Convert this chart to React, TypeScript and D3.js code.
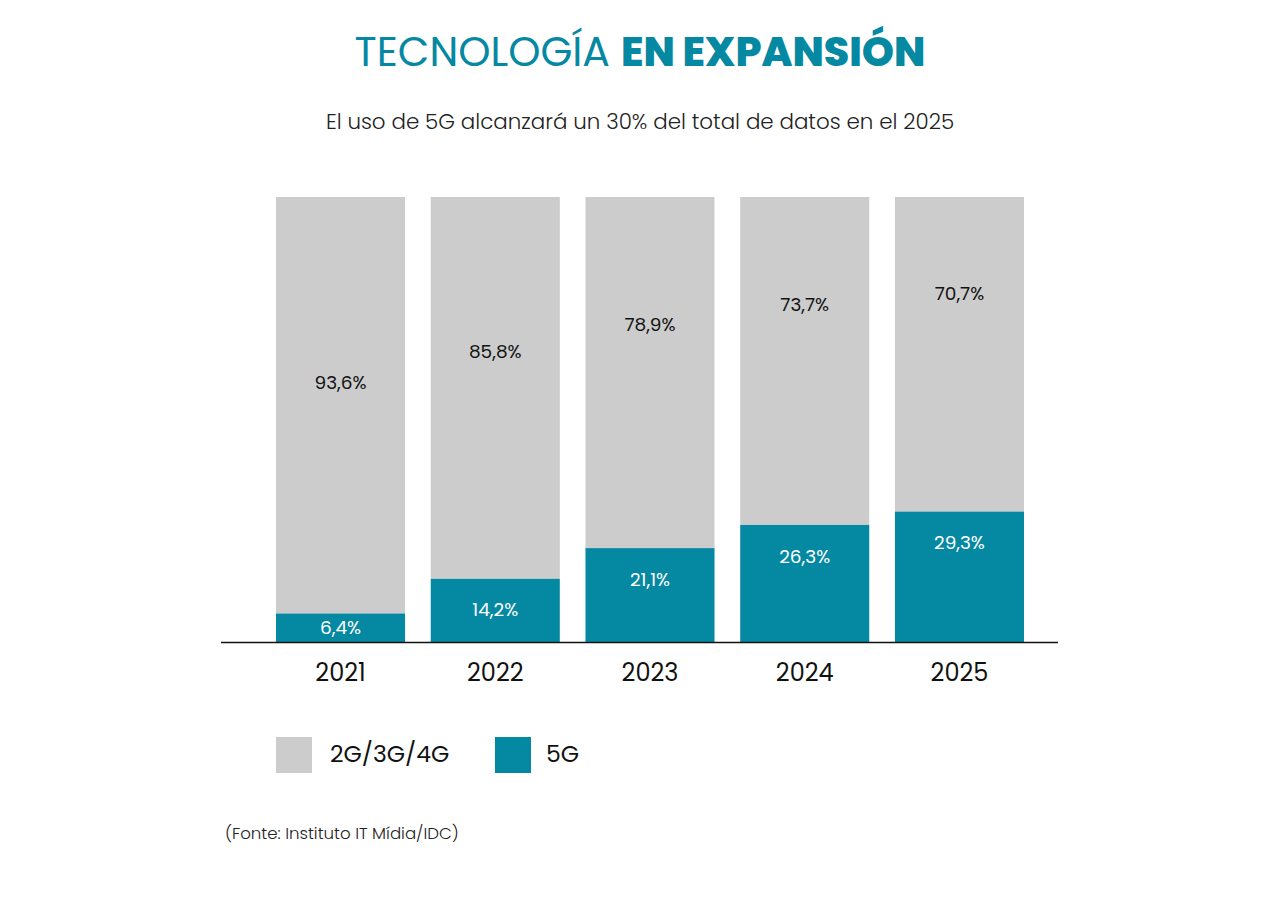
import * as d3 from 'd3';
import React, { useEffect, useRef } from 'react';

const years = ['2021', '2022', '2023', '2024', '2025'];
const legacy = [93.6, 85.8, 78.9, 73.7, 70.7];
const fiveG = [6.4, 14.2, 21.1, 26.3, 29.3];
const seriesNames = ['2G/3G/4G', '5G'];

const width = 1280;
const height = 901;
const teal = '#0588a2';
const gray = '#cccccc';
const font = "Poppins, Inter, 'Noto Sans', sans-serif";
const fmt = (v: number) => v.toFixed(1).replace('.', ',') + '%';

const App: React.FC = () => {
  const ref = useRef<SVGSVGElement>(null);
  useEffect(() => {
    const svg = d3.select(ref.current);
    svg.selectAll('*').remove();

    const x = d3.scaleBand<string>().domain(years).range([276, 1024]).paddingInner(0.166).paddingOuter(0);
    const y = d3.scaleLinear().domain([0, 100]).range([642, 197]);

    // title
    const title = svg
      .append('text')
      .attr('x', width / 2)
      .attr('y', 66)
      .attr('text-anchor', 'middle')
      .attr('fill', teal)
      .style('font-family', font)
      .style('font-size', '41px');
    title.append('tspan').attr('font-weight', 400).text('TECNOLOGÍA ');
    title.append('tspan').attr('font-weight', 800).text('EN EXPANSIÓN');

    svg
      .append('text')
      .attr('x', 640)
      .attr('y', 129)
      .attr('text-anchor', 'middle')
      .attr('fill', '#222')
      .style('font-family', font)
      .style('font-size', '21.4px')
      .style('font-weight', 300)
      .text('El uso de 5G alcanzará un 30% del total de datos en el 2025');

    const rows = years.map((yr, i) => ({ yr, g: legacy[i], f: fiveG[i] }));

    const bars = svg.append('g');
    bars
      .selectAll('rect.legacy')
      .data(rows)
      .join('rect')
      .attr('class', 'legacy')
      .attr('x', (d) => x(d.yr)!)
      .attr('width', x.bandwidth())
      .attr('y', y(100))
      .attr('height', (d) => y(d.f) - y(100))
      .attr('fill', gray);
    bars
      .selectAll('rect.five')
      .data(rows)
      .join('rect')
      .attr('class', 'five')
      .attr('x', (d) => x(d.yr)!)
      .attr('width', x.bandwidth())
      .attr('y', (d) => y(d.f))
      .attr('height', (d) => y(0) - y(d.f))
      .attr('fill', teal);

    const labels = svg.append('g').style('font-family', font).style('font-size', '18.5px').attr('text-anchor', 'middle');
    labels
      .selectAll('text.lg')
      .data(rows)
      .join('text')
      .attr('class', 'lg')
      .attr('x', (d) => x(d.yr)! + x.bandwidth() / 2)
      .attr('y', (d) => y(52.8 + 0.874 * d.f))
      .attr('dy', '0.35em')
      .attr('fill', '#111')
      .text((d) => fmt(d.g));
    labels
      .selectAll('text.fg')
      .data(rows)
      .join('text')
      .attr('class', 'fg')
      .attr('x', (d) => x(d.yr)! + x.bandwidth() / 2)
      .attr('y', (d) => y(Math.max(d.f / 2, d.f - 7)))
      .attr('dy', '0.35em')
      .attr('fill', '#fff')
      .text((d) => fmt(d.f));

    // baseline
    svg.append('line').attr('x1', 221).attr('x2', 1058).attr('y1', y(0) + 0.5).attr('y2', y(0) + 0.5).attr('stroke', '#111').attr('stroke-width', 1.6);

    const xAxis = svg
      .append('g')
      .attr('transform', `translate(0,${y(0)})`)
      .call(d3.axisBottom(x).tickSize(0).tickPadding(22));
    xAxis.select('.domain').remove();
    xAxis.selectAll('text').style('font-family', font).style('font-size', '24px').attr('fill', '#111');

    // legend
    const legend = svg.append('g').style('font-family', font).style('font-size', '23.5px');
    const lx = [276, 495];
    seriesNames.forEach((name, i) => {
      legend.append('rect').attr('x', lx[i]).attr('y', 737).attr('width', 36).attr('height', 36).attr('fill', i === 0 ? gray : teal);
      legend
        .append('text')
        .attr('x', lx[i] + (i === 0 ? 54 : 51))
        .attr('y', 754)
        .attr('dy', '0.35em')
        .attr('fill', '#111')
        .text(name);
    });

    svg
      .append('text')
      .attr('x', 225)
      .attr('y', 839)
      .attr('fill', '#222')
      .style('font-family', font)
      .style('font-size', '16.6px')
      .style('font-weight', 300)
      .text('(Fonte: Instituto IT Mídia/IDC)');
  }, []);
  return (
    <svg
      ref={ref}
      width={width}
      height={height}
      style={{ position: 'absolute', left: 0, top: 0, background: '#fff' }}
    ></svg>
  );
};

export default App;
